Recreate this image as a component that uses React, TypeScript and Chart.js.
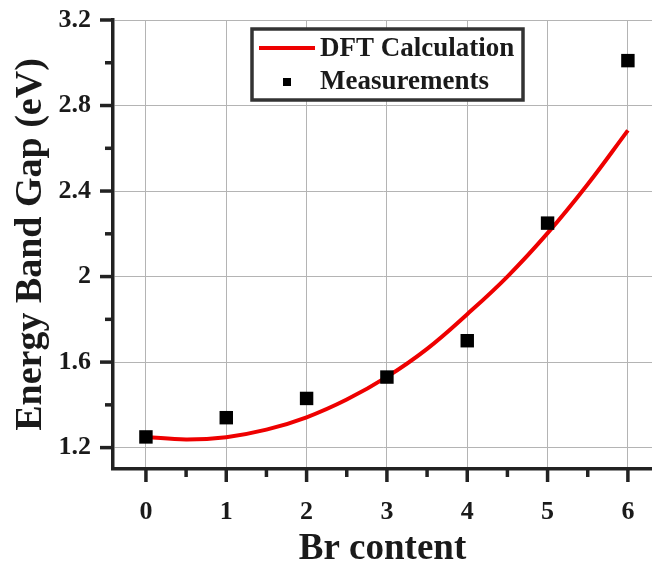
import { useEffect, useRef } from "react";
import { Chart, registerables } from "chart.js";

Chart.register(...registerables);

// Measured band gaps vs. Br content
const brContent = [0, 1, 2, 3, 4, 5, 6];
const measuredGap = [1.25, 1.34, 1.43, 1.53, 1.7, 2.25, 3.01];

// DFT calculated curve
const dftContent = [0, 0.5, 1, 1.5, 2, 2.5, 3, 3.5, 4, 4.5, 5, 5.5, 6];
const dftGap = [1.25, 1.238, 1.249, 1.284, 1.342, 1.425, 1.531, 1.662, 1.824, 2.0, 2.203, 2.432, 2.684];

// Axis ticks
const xTicks = [0, 1, 2, 3, 4, 5, 6];
const xMinorTicks = [0.5, 1.5, 2.5, 3.5, 4.5, 5.5];
const yTicks = [1.2, 1.6, 2.0, 2.4, 2.8, 3.2];
const yMinorTicks = [1.4, 1.8, 2.2, 2.6, 3.0];

const seriesLabels = ["DFT Calculation", "Measurements"];
const xTitle = "Br content";
const yTitle = "Energy Band Gap (eV)";

const SERIF = '"Liberation Serif", "Times New Roman", serif';
const AXIS = "#222222";
const TEXT = "#1a1a1a";
const RED = "#ee0000";

// Major (long) and minor (short) outward tick marks on both axes
const tickMarks = {
  id: "tickMarks",
  afterDraw(chart: any) {
    const { ctx, chartArea, scales } = chart;
    const xs = scales.x;
    const ys = scales.y;
    ctx.save();
    ctx.strokeStyle = AXIS;
    ctx.lineWidth = 3.5;
    ctx.lineCap = "butt";
    const seg = (x1: number, y1: number, x2: number, y2: number) => {
      ctx.beginPath();
      ctx.moveTo(x1, y1);
      ctx.lineTo(x2, y2);
      ctx.stroke();
    };
    const b = chartArea.bottom;
    const l = chartArea.left;
    xTicks.forEach((v) => {
      const p = xs.getPixelForValue(v);
      seg(p, b, p, b + 13);
    });
    xMinorTicks.forEach((v) => {
      const p = xs.getPixelForValue(v);
      seg(p, b, p, b + 8);
    });
    yTicks.forEach((v) => {
      const p = ys.getPixelForValue(v);
      seg(l, p, l - 13, p);
    });
    yMinorTicks.forEach((v) => {
      const p = ys.getPixelForValue(v);
      seg(l, p, l - 8, p);
    });
    ctx.restore();
  },
};

// Framed legend drawn inside the plot area
const boxLegend = {
  id: "boxLegend",
  afterDraw(chart: any) {
    const { ctx } = chart;
    const line = chart.data.datasets[1];
    const pts = chart.data.datasets[0];
    ctx.save();
    ctx.fillStyle = "#ffffff";
    ctx.fillRect(252, 29, 271, 71);
    ctx.strokeStyle = "#333333";
    ctx.lineWidth = 3.5;
    ctx.strokeRect(252, 29, 271, 71);

    ctx.strokeStyle = line.borderColor;
    ctx.lineWidth = 4;
    ctx.beginPath();
    ctx.moveTo(259, 48);
    ctx.lineTo(315, 48);
    ctx.stroke();

    ctx.fillStyle = pts.backgroundColor;
    ctx.fillRect(283, 78, 8, 8);

    ctx.fillStyle = TEXT;
    ctx.font = `bold 27px ${SERIF}`;
    ctx.textAlign = "left";
    ctx.textBaseline = "middle";
    ctx.fillText(line.label, 320, 49);
    ctx.fillText(pts.label, 320, 82);
    ctx.restore();
  },
};

const noEdgePadding = (scale: any) => {
  scale.paddingTop = 0;
  scale.paddingBottom = 0;
  scale.paddingLeft = 0;
  scale.paddingRight = 0;
};

export default function App() {
  const canvasRef = useRef<HTMLCanvasElement | null>(null);

  useEffect(() => {
    const canvas = canvasRef.current;
    if (!canvas) return;

    const chart = new Chart(canvas, {
      type: "scatter",
      data: {
        datasets: [
          {
            label: seriesLabels[1],
            data: brContent.map((x, i) => ({ x, y: measuredGap[i] })),
            pointStyle: "rect",
            pointRadius: 9.5,
            pointHoverRadius: 9.5,
            backgroundColor: "#000000",
            borderColor: "#000000",
            borderWidth: 0,
            showLine: false,
            order: 0,
          },
          {
            label: seriesLabels[0],
            type: "line",
            data: dftContent.map((x, i) => ({ x, y: dftGap[i] })),
            borderColor: RED,
            backgroundColor: RED,
            borderWidth: 4,
            pointRadius: 0,
            tension: 0.4,
            fill: false,
            order: 1,
          },
        ],
      } as any,
      options: {
        responsive: false,
        animation: false,
        events: [],
        layout: { autoPadding: false, padding: { top: 20, right: 0, bottom: 0, left: 0 } },
        plugins: {
          legend: { display: false },
          tooltip: { enabled: false },
        },
        scales: {
          x: {
            type: "linear",
            min: -0.41,
            max: 6.3,
            afterBuildTicks: (scale: any) => {
              scale.ticks = xTicks.map((value) => ({ value }));
            },
            afterFit: (scale: any) => {
              scale.height = 95;
              noEdgePadding(scale);
            },
            grid: { color: "#b4b4b4", lineWidth: 1, drawTicks: false },
            border: { display: true, color: AXIS, width: 3.5 },
            ticks: {
              padding: 28,
              color: TEXT,
              font: { family: SERIF, size: 26, weight: "bold" },
              callback: (v: any) => String(v),
            },
            title: {
              display: true,
              text: xTitle,
              color: TEXT,
              font: { family: SERIF, size: 37, weight: "bold", lineHeight: 0.8 },
              padding: 0,
            },
          },
          y: {
            type: "linear",
            min: 1.1,
            max: 3.2,
            afterBuildTicks: (scale: any) => {
              scale.ticks = yTicks.map((value) => ({ value }));
            },
            afterFit: (scale: any) => {
              scale.width = 113;
              noEdgePadding(scale);
            },
            grid: { color: "#b4b4b4", lineWidth: 1, drawTicks: false },
            border: { display: true, color: AXIS, width: 3.5 },
            ticks: {
              padding: 22,
              color: TEXT,
              font: { family: SERIF, size: 26, weight: "bold" },
              callback: (v: any) => String(Math.round(Number(v) * 10) / 10),
            },
            title: {
              display: true,
              text: yTitle,
              color: TEXT,
              font: { family: SERIF, size: 38, weight: "bold", lineHeight: 1.2 },
              padding: { top: 8, bottom: 0 },
            },
          },
        },
      } as any,
      plugins: [tickMarks, boxLegend],
    });

    return () => chart.destroy();
  }, []);

  return (
    <div style={{ position: "absolute", left: 0, top: 0, width: 652, height: 564, background: "#ffffff" }}>
      <canvas ref={canvasRef} width={652} height={564} />
    </div>
  );
}
